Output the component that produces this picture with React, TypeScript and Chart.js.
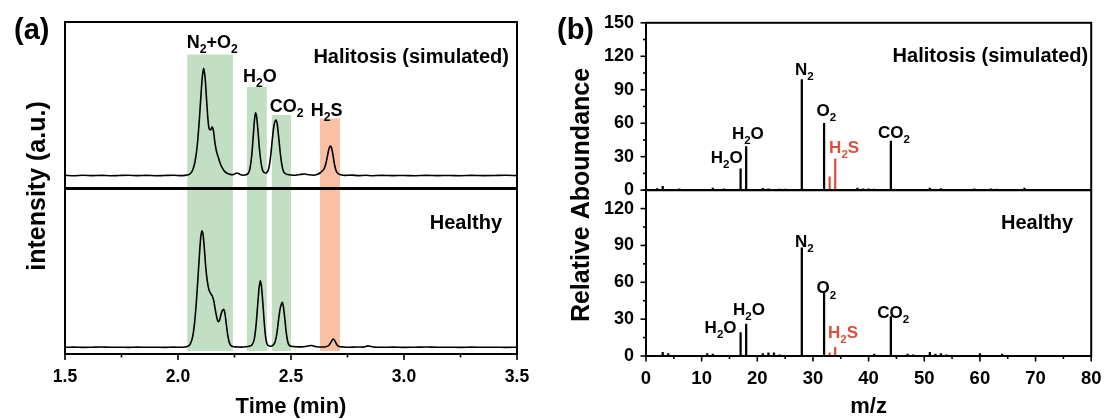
import React, { useEffect, useRef } from "react";
import { Chart, registerables } from "chart.js";

Chart.register(...registerables);

const FONT_FAMILY = "'Liberation Sans', Arial, Helvetica, sans-serif";
const INK = "#000000";
const H2S_RED = "#d9513e";

/* ---------------- (a) gas chromatograms ---------------- */

const halitosisTime = [
  1.5, 1.54, 1.58, 1.62, 1.66, 1.7, 1.74, 1.78, 1.82, 1.86, 1.9, 1.94, 1.98, 2.01, 2.03,
  2.045, 2.055, 2.065, 2.075, 2.085, 2.095, 2.102, 2.108, 2.114, 2.12, 2.126, 2.132, 2.138,
  2.144, 2.151, 2.157, 2.163, 2.17, 2.178, 2.186, 2.194, 2.203, 2.215, 2.228, 2.24, 2.25,
  2.26, 2.268, 2.278, 2.29, 2.3, 2.31, 2.318, 2.326, 2.333, 2.338, 2.343, 2.348, 2.354,
  2.36, 2.367, 2.374, 2.381, 2.388, 2.395, 2.402, 2.41, 2.418, 2.425, 2.43, 2.434, 2.439,
  2.445, 2.452, 2.459, 2.466, 2.474, 2.485, 2.5, 2.52, 2.54, 2.56, 2.58, 2.6, 2.615, 2.628,
  2.638, 2.648, 2.656, 2.663, 2.669, 2.674, 2.679, 2.685, 2.692, 2.7, 2.708, 2.72, 2.74,
  2.77, 2.8, 2.83, 2.86, 2.9, 2.95, 3.0, 3.05, 3.1, 3.15, 3.2, 3.25, 3.3, 3.35, 3.4, 3.45, 3.5,
];
const halitosisIntensity = [
  0.6, 0.3, 0.7, 0.4, 0.6, 0.3, 0.5, 0.7, 0.4, 0.6, 0.3, 0.5, 0.7, 0.4, 0.6,
  1.2, 2.5, 6, 14, 30, 58, 82, 100, 107.7, 98, 78, 58, 47,
  46, 49, 45, 34, 25, 19, 13, 9, 5.5, 3, 1.8, 1.2, 2,
  3, 2.5, 1.2, 0.8, 1.2, 2.5, 7, 20, 40, 55, 63.3, 59, 45,
  28, 14, 6, 3.5, 3, 4, 8, 20, 38, 51, 55, 56, 52,
  40, 24, 12, 5, 2.5, 1.5, 1, 0.8, 1.5, 2, 1.2, 0.8, 1.5, 3,
  5, 8, 14, 22, 28, 30, 28.5, 22, 12, 5, 2.5, 1.2, 0.6,
  0.9, 0.4, 0.7, 0.3, 0.6, 0.4, 0.5, 0.3, 0.6, 0.4, 0.5, 0.3, 0.6, 0.4, 0.5, 0.7, 0.4,
];

const healthyTime = [
  1.5, 1.54, 1.58, 1.62, 1.66, 1.7, 1.74, 1.78, 1.82, 1.86, 1.9, 1.94, 1.98, 2.01, 2.03,
  2.045, 2.055, 2.065, 2.073, 2.081, 2.089, 2.096, 2.101, 2.106, 2.111, 2.117, 2.123, 2.13,
  2.137, 2.145, 2.152, 2.158, 2.165, 2.172, 2.178, 2.184, 2.19, 2.196, 2.202, 2.207, 2.213,
  2.219, 2.226, 2.233, 2.242, 2.26, 2.28, 2.3, 2.315, 2.328, 2.338, 2.346, 2.353, 2.359,
  2.364, 2.369, 2.375, 2.381, 2.387, 2.393, 2.4, 2.41, 2.42, 2.43, 2.438, 2.445, 2.452,
  2.458, 2.462, 2.467, 2.473, 2.479, 2.485, 2.492, 2.5, 2.52, 2.545, 2.565, 2.58, 2.59, 2.6,
  2.615, 2.635, 2.655, 2.668, 2.678, 2.687, 2.695, 2.703, 2.712, 2.73, 2.76, 2.79, 2.82,
  2.84, 2.855, 2.87, 2.9, 2.95, 3.0, 3.05, 3.1, 3.15, 3.2, 3.25, 3.3, 3.35, 3.4, 3.45, 3.5,
];
const healthyIntensity = [
  0.4, 0.6, 0.3, 0.5, 0.7, 0.4, 0.5, 0.3, 0.6, 0.4, 0.5, 0.3, 0.6, 0.4, 0.7,
  1.5, 4, 11, 24, 45, 72, 97, 111, 117, 113, 98, 80, 66,
  58, 54, 51.5, 47, 38, 30, 26, 27.5, 33, 37, 38.4, 35, 25,
  14, 6, 2.5, 1.2, 0.8, 0.6, 0.9, 1.5, 3, 9, 24, 44, 60,
  67, 62, 46, 27, 12, 4.5, 2, 1.5, 2.5, 6, 15, 28, 39,
  44, 45.4, 40, 28, 15, 6.5, 2.5, 1.5, 1, 0.8, 1.2, 2, 2.2, 1.6,
  0.9, 0.7, 1, 2.5, 6, 8.7, 6.5, 3, 1.3, 0.8, 0.5, 0.7, 0.6,
  1.8, 1.2, 0.6, 0.4, 0.6, 0.3, 0.5, 0.7, 0.4, 0.5, 0.3, 0.6, 0.4, 0.5, 0.3, 0.5,
];

const timeTicks = [1.5, 2.0, 2.5, 3.0, 3.5];

// stacked layout of the two traces on one hidden intensity axis (a.u.)
const INTENSITY_MAX = 332;
const HALITOSIS_BASE = 178;
const HEALTHY_BASE = 6.3;
const TRACE_SPLIT = 165.5;
const BAND_FLOOR = 3;

const bandLabels = ["N_2+O_2", "H_2O", "CO_2", "H_2S"];
const bandFrom = [2.041, 2.305, 2.415, 2.628];
const bandTo = [2.243, 2.393, 2.5, 2.717];
const bandHeight = [299.5, 267, 239, 235.5];
const bandLabelTime = [2.152, 2.362, 2.481, 2.658];
const bandLabelLevel = [306.5, 272, 242, 238.5];
const bandColors = ["#c2dfc3", "#c2dfc3", "#c2dfc3", "#f9c0a4"];

/* ---------------- (b) mass spectra ---------------- */

const mzTicks = [0, 10, 20, 30, 40, 50, 60, 70, 80];

const halitosisMz = [17, 18, 28, 32, 44];
const halitosisAbundance = [19, 39, 99, 60, 44];
const halitosisH2SMz = [33, 34];
const halitosisH2SAbundance = [12, 28];
const halitosisMinorMz = [2, 3, 6, 12, 14, 21, 22, 24, 25, 38, 39, 40, 41, 51, 53, 59, 62, 63, 68];
const halitosisMinorAbundance = [1.5, 3.5, 1.2, 1.8, 1.2, 1.6, 1.2, 1, 1, 1.8, 1.2, 1.2, 1, 1.8, 1.5, 1.2, 1.2, 1, 1.8];

const healthyMz = [17, 18, 28, 32, 44];
const healthyAbundance = [19, 26, 88, 52, 32];
const healthyH2SMz = [33, 34];
const healthyH2SAbundance = [2.5, 7];
const healthyMinorMz = [3, 4, 11, 12, 21, 22, 23, 24, 41, 47, 48, 51, 52, 53, 54, 60, 64];
const healthyMinorAbundance = [3, 2, 2, 1.5, 2, 2.5, 2.5, 1, 1.5, 1.5, 1, 3, 1.5, 2, 1, 2, 1.5];

const peakLabels = ["H_2O", "H_2O", "N_2", "O_2", "H_2S", "CO_2"];
const peakLabelColors = [INK, INK, INK, INK, H2S_RED, INK];
const halitosisLabelMz = [14.5, 18.3, 28.46, 32.4, 35.6, 44.55];
const halitosisLabelLevel = [24.1, 46.1, 103.1, 66.6, 33.6, 47];
const healthyLabelMz = [13.4, 18.5, 28.46, 32.4, 35.4, 44.4];
const healthyLabelLevel = [18.6, 33.7, 88.6, 50.9, 14.6, 30.8];

/* ---------------- drawing helpers ---------------- */

const font = (size: number) => `bold ${size}px ${FONT_FAMILY}`;

// text such as "N_2+O_2": the character after "_" is set as a subscript
function drawFormula(ctx: CanvasRenderingContext2D, text: string, cx: number, baseline: number, size: number, color: string) {
  const parts: { t: string; sub: boolean }[] = [];
  let buf = "";
  for (let i = 0; i < text.length; i++) {
    if (text[i] === "_") {
      if (buf) parts.push({ t: buf, sub: false });
      buf = "";
      parts.push({ t: text[i + 1], sub: true });
      i++;
    } else {
      buf += text[i];
    }
  }
  if (buf) parts.push({ t: buf, sub: false });
  const subSize = size * 0.68;
  const widths = parts.map((p) => {
    ctx.font = font(p.sub ? subSize : size);
    return ctx.measureText(p.t).width;
  });
  const total = widths.reduce((a, b) => a + b, 0);
  let x = cx - total / 2;
  ctx.fillStyle = color;
  ctx.textAlign = "left";
  ctx.textBaseline = "alphabetic";
  parts.forEach((p, i) => {
    ctx.font = font(p.sub ? subSize : size);
    ctx.fillText(p.t, x, p.sub ? baseline + size * 0.3 : baseline);
    x += widths[i];
  });
}

function drawText(ctx: CanvasRenderingContext2D, text: string, x: number, y: number, size: number, align: CanvasTextAlign) {
  ctx.font = font(size);
  ctx.fillStyle = INK;
  ctx.textAlign = align;
  ctx.textBaseline = "alphabetic";
  ctx.fillText(text, x, y);
}

function drawVerticalTitle(ctx: CanvasRenderingContext2D, text: string, baselineX: number, cy: number, size: number) {
  ctx.save();
  ctx.translate(baselineX, cy);
  ctx.rotate(-Math.PI / 2);
  drawText(ctx, text, 0, 0, size, "center");
  ctx.restore();
}

function line(ctx: CanvasRenderingContext2D, x1: number, y1: number, x2: number, y2: number) {
  ctx.beginPath();
  ctx.moveTo(x1, y1);
  ctx.lineTo(x2, y2);
  ctx.stroke();
}

const chromatogramPlugin = {
  id: "chromatogramDecor",
  beforeDatasetsDraw(chart: any) {
    const { ctx } = chart;
    const x = chart.scales.x;
    const y = chart.scales.y;
    ctx.save();
    bandFrom.forEach((from, i) => {
      const x1 = x.getPixelForValue(from);
      const x2 = x.getPixelForValue(bandTo[i]);
      const y1 = y.getPixelForValue(bandHeight[i]);
      const y2 = y.getPixelForValue(BAND_FLOOR);
      ctx.fillStyle = bandColors[i];
      ctx.fillRect(x1, y1, x2 - x1, y2 - y1);
    });
    ctx.restore();
  },
  afterDraw(chart: any) {
    const { ctx, chartArea: a } = chart;
    const x = chart.scales.x;
    const y = chart.scales.y;
    ctx.save();
    ctx.strokeStyle = INK;
    ctx.lineWidth = 2;
    ctx.strokeRect(a.left, a.top, a.right - a.left, a.bottom - a.top);
    ctx.lineWidth = 2.8;
    const split = y.getPixelForValue(TRACE_SPLIT);
    line(ctx, a.left, split, a.right, split);

    ctx.lineWidth = 1.6;
    timeTicks.forEach((t, i) => {
      const px = x.getPixelForValue(t);
      line(ctx, px, a.bottom, px, a.bottom + 6);
      if (i < timeTicks.length - 1) {
        const mx = x.getPixelForValue((t + timeTicks[i + 1]) / 2);
        line(ctx, mx, a.bottom, mx, a.bottom + 3.5);
      }
    });

    bandLabels.forEach((lbl, i) => {
      drawFormula(ctx, lbl, x.getPixelForValue(bandLabelTime[i]), y.getPixelForValue(bandLabelLevel[i]), 18, INK);
    });

    drawText(ctx, "Halitosis (simulated)", a.right - 8, 62.5, 20, "right");
    drawText(ctx, "Healthy", a.right - 15, 229.3, 20, "right");
    drawText(ctx, "(a)", 14, 39, 29, "left");
    drawVerticalTitle(ctx, "intensity (a.u.)", 45, 186, 25);
    ctx.restore();
  },
};

const spectraPlugin = {
  id: "spectraDecor",
  afterDraw(chart: any) {
    const { ctx, chartArea: a } = chart;
    const x = chart.scales.x;
    const yTop = chart.scales.yTop;
    const yBot = chart.scales.yBot;
    ctx.save();
    ctx.strokeStyle = INK;
    ctx.lineWidth = 2;
    ctx.strokeRect(a.left, a.top, a.right - a.left, a.bottom - a.top);
    ctx.lineWidth = 2.2;
    line(ctx, a.left, yTop.bottom, a.right, yTop.bottom);

    ctx.lineWidth = 1.6;
    [yTop, yBot].forEach((s: any) => {
      for (let v = 0; v <= s.max; v += 15) {
        const py = s.getPixelForValue(v);
        const major = v % 30 === 0;
        line(ctx, a.left, py, a.left - (major ? 5.5 : 3), py);
      }
    });
    mzTicks.forEach((m, i) => {
      const px = x.getPixelForValue(m);
      line(ctx, px, a.bottom, px, a.bottom + 5.5);
      if (i < mzTicks.length - 1) {
        const mx = x.getPixelForValue((m + mzTicks[i + 1]) / 2);
        line(ctx, mx, a.bottom, mx, a.bottom + 3);
      }
    });

    peakLabels.forEach((lbl, i) => {
      drawFormula(ctx, lbl, x.getPixelForValue(halitosisLabelMz[i]), yTop.getPixelForValue(halitosisLabelLevel[i]), 17, peakLabelColors[i]);
      drawFormula(ctx, lbl, x.getPixelForValue(healthyLabelMz[i]), yBot.getPixelForValue(healthyLabelLevel[i]), 17, peakLabelColors[i]);
    });

    drawText(ctx, "Halitosis (simulated)", a.right - 3, 62, 20, "right");
    drawText(ctx, "Healthy", a.right - 18, 229, 20, "right");
    drawText(ctx, "(b)", 1, 39, 29, "left");
    drawVerticalTitle(ctx, "Relative Aboundance", 32.5, 195, 25);
    ctx.restore();
  },
};

const points = (xs: number[], ys: number[], base = 0) => xs.map((v, i) => ({ x: v, y: ys[i] + base }));

const tickFont = (size: number) => ({ family: FONT_FAMILY, size, weight: "bold" as const });

function stickSet(xs: number[], ys: number[], axis: string, color: string) {
  return {
    type: "bar" as const,
    data: points(xs, ys),
    yAxisID: axis,
    backgroundColor: color,
    borderWidth: 0,
    barThickness: 1.6,
    grouped: false,
  };
}

export default function App() {
  const chromRef = useRef<HTMLCanvasElement>(null);
  const specRef = useRef<HTMLCanvasElement>(null);

  useEffect(() => {
    const chrom = new Chart(chromRef.current as HTMLCanvasElement, {
      type: "line",
      data: {
        datasets: [
          {
            data: points(halitosisTime, halitosisIntensity, HALITOSIS_BASE),
            borderColor: INK,
            borderWidth: 1.6,
            pointRadius: 0,
            cubicInterpolationMode: "monotone",
          },
          {
            data: points(healthyTime, healthyIntensity, HEALTHY_BASE),
            borderColor: INK,
            borderWidth: 1.6,
            pointRadius: 0,
            cubicInterpolationMode: "monotone",
          },
        ],
      },
      options: {
        animation: false,
        responsive: true,
        maintainAspectRatio: false,
        events: [],
        layout: { padding: { left: 65, right: 39, top: 22, bottom: 0 } },
        plugins: { legend: { display: false }, tooltip: { enabled: false } },
        scales: {
          x: {
            type: "linear",
            min: 1.5,
            max: 3.5,
            grid: { display: false, drawTicks: false },
            border: { display: false },
            ticks: {
              stepSize: 0.5,
              autoSkip: false,
              maxRotation: 0,
              padding: 13,
              color: INK,
              font: tickFont(17.5),
              callback: (v: any) => Number(v).toFixed(1),
            },
            title: {
              display: true,
              text: "Time (min)",
              color: INK,
              font: { family: FONT_FAMILY, size: 22, weight: "bold", lineHeight: 1 },
              padding: { top: 0, bottom: 1 },
            },
            afterFit: (s: any) => {
              s.height = 65;
            },
          },
          y: { display: false, min: 0, max: INTENSITY_MAX },
        },
      },
      plugins: [chromatogramPlugin],
    } as any);

    const yAxis = (max: number, weight: number) => ({
      type: "linear",
      position: "left",
      stack: "spectra",
      stackWeight: weight,
      min: 0,
      max,
      grid: { display: false, drawTicks: false },
      border: { display: false },
      ticks: { stepSize: 30, autoSkip: false, includeBounds: false, padding: 12, color: INK, font: tickFont(18) },
      afterFit: (s: any) => {
        s.width = 90;
      },
    });

    const spec = new Chart(specRef.current as HTMLCanvasElement, {
      type: "bar",
      data: {
        datasets: [
          stickSet(halitosisMz, halitosisAbundance, "yTop", INK),
          stickSet(halitosisMinorMz, halitosisMinorAbundance, "yTop", INK),
          stickSet(halitosisH2SMz, halitosisH2SAbundance, "yTop", H2S_RED),
          stickSet(healthyMz, healthyAbundance, "yBot", INK),
          stickSet(healthyMinorMz, healthyMinorAbundance, "yBot", INK),
          stickSet(healthyH2SMz, healthyH2SAbundance, "yBot", H2S_RED),
        ],
      },
      options: {
        animation: false,
        responsive: true,
        maintainAspectRatio: false,
        events: [],
        layout: { padding: { left: 0, right: 13, top: 20.5, bottom: 0 } },
        plugins: { legend: { display: false }, tooltip: { enabled: false } },
        scales: {
          x: {
            type: "linear",
            min: 0,
            max: 80,
            offset: false,
            grid: { display: false, drawTicks: false },
            border: { display: false },
            ticks: { stepSize: 10, autoSkip: false, maxRotation: 0, padding: 11.5, color: INK, font: tickFont(18.5) },
            title: {
              display: true,
              text: "m/z",
              color: INK,
              font: { family: FONT_FAMILY, size: 22, weight: "bold", lineHeight: 1 },
              padding: { top: 0, bottom: 1 },
            },
            afterFit: (s: any) => {
              s.height = 63;
            },
          },
          yBot: yAxis(135, 167),
          yTop: yAxis(150, 168.5),
        },
      },
      plugins: [spectraPlugin],
    } as any);

    return () => {
      chrom.destroy();
      spec.destroy();
    };
  }, []);

  return (
    <div style={{ position: "absolute", left: 0, top: 0, width: 1113, height: 419, background: "#fff" }}>
      <div style={{ position: "absolute", left: 0, top: 0, width: 556, height: 419 }}>
        <canvas ref={chromRef} />
      </div>
      <div style={{ position: "absolute", left: 556, top: 0, width: 557, height: 419 }}>
        <canvas ref={specRef} />
      </div>
    </div>
  );
}
